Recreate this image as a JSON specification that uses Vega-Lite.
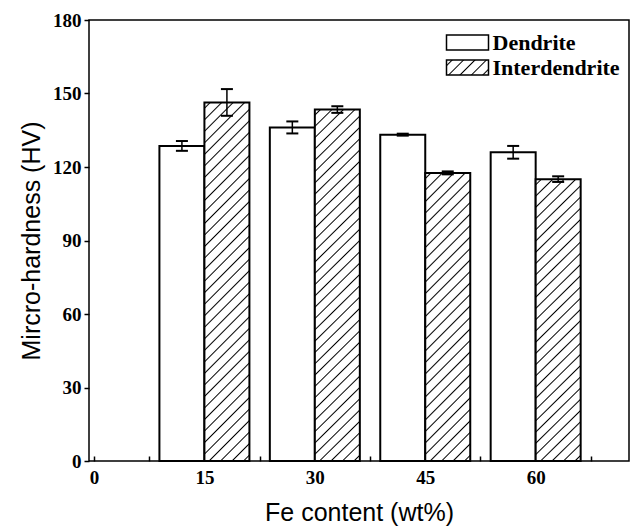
{
  "$schema": "https://vega.github.io/schema/vega-lite/v6.json",
  "width": 540,
  "height": 441,
  "autosize": "none",
  "padding": {"left": 89, "top": 20, "right": 6, "bottom": 67},
  "background": "white",
  "config": {
    "view": {"stroke": "black", "strokeWidth": 1.5},
    "axis": {"domain": false, "grid": false, "tickColor": "black", "tickWidth": 1.5, "labelColor": "black", "titleColor": "black", "labelFont": "Liberation Serif", "labelFontWeight": "bold", "labelFontSize": 19, "titleFont": "Liberation Sans", "titleFontWeight": "normal", "titleFontSize": 25}
  },
  "params": [
    {"name": "hatchL", "value": {"gradient": "linear", "x1": 0, "y1": 0, "x2": 1.2035, "y2": 0.4297, "stops": [
      {"offset": 0.075, "color": "#fff"}, {"offset": 0.1, "color": "#000"}, {"offset": 0.125, "color": "#fff"},
      {"offset": 0.275, "color": "#fff"}, {"offset": 0.3, "color": "#000"}, {"offset": 0.325, "color": "#fff"},
      {"offset": 0.475, "color": "#fff"}, {"offset": 0.5, "color": "#000"}, {"offset": 0.525, "color": "#fff"},
      {"offset": 0.675, "color": "#fff"}, {"offset": 0.7, "color": "#000"}, {"offset": 0.725, "color": "#fff"},
      {"offset": 0.875, "color": "#fff"}, {"offset": 0.9, "color": "#000"}, {"offset": 0.925, "color": "#fff"}
    ]}}
  ],
  "data": {"values": [
    {"fe": 15, "type": "Dendrite", "hv": 128.6, "lo": 126.6, "hi": 130.6},
    {"fe": 15, "type": "Interdendrite", "hv": 146.3, "lo": 140.9, "hi": 151.8},
    {"fe": 30, "type": "Dendrite", "hv": 136.1, "lo": 133.7, "hi": 138.6},
    {"fe": 30, "type": "Interdendrite", "hv": 143.5, "lo": 142.1, "hi": 144.8},
    {"fe": 45, "type": "Dendrite", "hv": 133.2, "lo": 132.8, "hi": 133.6},
    {"fe": 45, "type": "Interdendrite", "hv": 117.6, "lo": 117.0, "hi": 118.2},
    {"fe": 60, "type": "Dendrite", "hv": 126.0, "lo": 123.4, "hi": 128.6},
    {"fe": 60, "type": "Interdendrite", "hv": 115.0, "lo": 113.9, "hi": 116.2}
  ]},
  "encoding": {
    "x": {"field": "fe", "type": "quantitative", "scale": {"domain": [0, 72], "nice": false},
      "axis": {"title": "Fe content (wt%)", "values": [0, 7.5, 15, 22.5, 30, 37.5, 45, 52.5, 60, 67.5], "labelExpr": "datum.value % 15 === 0 ? datum.label : ''", "tickSize": -5, "labelPadding": 12, "titlePadding": 13}}
  },
  "layer": [
    {
      "transform": [{"filter": "datum.type === 'Dendrite'"}],
      "mark": {"type": "bar", "orient": "vertical", "width": 45, "xOffset": -22.5, "fill": "white", "stroke": "black", "strokeWidth": 2},
      "encoding": {
        "y": {"field": "hv", "type": "quantitative", "stack": null, "scale": {"domain": [0, 180], "nice": false},
          "axis": {"title": "Mircro-hardness (HV)", "values": [0, 15, 30, 45, 60, 75, 90, 105, 120, 135, 150, 165, 180], "labelExpr": "datum.value % 30 === 0 ? datum.label : ''", "tickSize": 5, "labelPadding": 3, "titlePadding": 8}}
      }
    },
    {
      "transform": [{"filter": "false"}],
      "mark": {"type": "bar", "orient": "vertical", "stroke": "black", "strokeWidth": 1.5, "opacity": 1},
      "encoding": {
        "y": {"field": "hv", "type": "quantitative", "stack": null, "axis": {"title": "Mircro-hardness (HV)"}},
        "fill": {"field": "type", "type": "nominal",
          "scale": {"domain": ["Dendrite", "Interdendrite"], "range": [{"expr": "'white'"}, {"expr": "hatchL"}]},
          "legend": {"title": null, "orient": "none", "legendX": 367.5, "legendY": 11.5, "symbolType": "M-2.8,-1H2.8V1H-2.8Z", "symbolSize": 225, "symbolStrokeColor": "black", "symbolStrokeWidth": 1.5, "symbolOpacity": 1, "labelFont": "Liberation Serif", "labelFontWeight": "bold", "labelFontSize": 22, "labelColor": "black", "rowPadding": 3, "labelOffset": 14}}
      }
    },
    {
      "transform": [{"filter": "datum.type === 'Interdendrite' && datum.fe <= 30"}],
      "mark": {"type": "bar", "orient": "vertical", "width": 45, "xOffset": 22.5, "stroke": "black", "strokeWidth": 2,
        "fill": {"gradient": "linear", "x1": 0, "y1": 0, "x2": 0.1396, "y2": 1.108, "stops": [
          {"offset": 0.0108, "color": "#fff"}, {"offset": 0.0143, "color": "#000"}, {"offset": 0.0178, "color": "#fff"},
          {"offset": 0.0394, "color": "#fff"}, {"offset": 0.0429, "color": "#000"}, {"offset": 0.0464, "color": "#fff"},
          {"offset": 0.0679, "color": "#fff"}, {"offset": 0.0714, "color": "#000"}, {"offset": 0.0749, "color": "#fff"},
          {"offset": 0.0965, "color": "#fff"}, {"offset": 0.1000, "color": "#000"}, {"offset": 0.1035, "color": "#fff"},
          {"offset": 0.1251, "color": "#fff"}, {"offset": 0.1286, "color": "#000"}, {"offset": 0.1321, "color": "#fff"},
          {"offset": 0.1536, "color": "#fff"}, {"offset": 0.1571, "color": "#000"}, {"offset": 0.1606, "color": "#fff"},
          {"offset": 0.1822, "color": "#fff"}, {"offset": 0.1857, "color": "#000"}, {"offset": 0.1892, "color": "#fff"},
          {"offset": 0.2108, "color": "#fff"}, {"offset": 0.2143, "color": "#000"}, {"offset": 0.2178, "color": "#fff"},
          {"offset": 0.2394, "color": "#fff"}, {"offset": 0.2429, "color": "#000"}, {"offset": 0.2464, "color": "#fff"},
          {"offset": 0.2679, "color": "#fff"}, {"offset": 0.2714, "color": "#000"}, {"offset": 0.2749, "color": "#fff"},
          {"offset": 0.2965, "color": "#fff"}, {"offset": 0.3000, "color": "#000"}, {"offset": 0.3035, "color": "#fff"},
          {"offset": 0.3251, "color": "#fff"}, {"offset": 0.3286, "color": "#000"}, {"offset": 0.3321, "color": "#fff"},
          {"offset": 0.3536, "color": "#fff"}, {"offset": 0.3571, "color": "#000"}, {"offset": 0.3606, "color": "#fff"},
          {"offset": 0.3822, "color": "#fff"}, {"offset": 0.3857, "color": "#000"}, {"offset": 0.3892, "color": "#fff"},
          {"offset": 0.4108, "color": "#fff"}, {"offset": 0.4143, "color": "#000"}, {"offset": 0.4178, "color": "#fff"},
          {"offset": 0.4394, "color": "#fff"}, {"offset": 0.4429, "color": "#000"}, {"offset": 0.4464, "color": "#fff"},
          {"offset": 0.4679, "color": "#fff"}, {"offset": 0.4714, "color": "#000"}, {"offset": 0.4749, "color": "#fff"},
          {"offset": 0.4965, "color": "#fff"}, {"offset": 0.5000, "color": "#000"}, {"offset": 0.5035, "color": "#fff"},
          {"offset": 0.5251, "color": "#fff"}, {"offset": 0.5286, "color": "#000"}, {"offset": 0.5321, "color": "#fff"},
          {"offset": 0.5536, "color": "#fff"}, {"offset": 0.5571, "color": "#000"}, {"offset": 0.5606, "color": "#fff"},
          {"offset": 0.5822, "color": "#fff"}, {"offset": 0.5857, "color": "#000"}, {"offset": 0.5892, "color": "#fff"},
          {"offset": 0.6108, "color": "#fff"}, {"offset": 0.6143, "color": "#000"}, {"offset": 0.6178, "color": "#fff"},
          {"offset": 0.6394, "color": "#fff"}, {"offset": 0.6429, "color": "#000"}, {"offset": 0.6464, "color": "#fff"},
          {"offset": 0.6679, "color": "#fff"}, {"offset": 0.6714, "color": "#000"}, {"offset": 0.6749, "color": "#fff"},
          {"offset": 0.6965, "color": "#fff"}, {"offset": 0.7000, "color": "#000"}, {"offset": 0.7035, "color": "#fff"},
          {"offset": 0.7251, "color": "#fff"}, {"offset": 0.7286, "color": "#000"}, {"offset": 0.7321, "color": "#fff"},
          {"offset": 0.7536, "color": "#fff"}, {"offset": 0.7571, "color": "#000"}, {"offset": 0.7606, "color": "#fff"},
          {"offset": 0.7822, "color": "#fff"}, {"offset": 0.7857, "color": "#000"}, {"offset": 0.7892, "color": "#fff"},
          {"offset": 0.8108, "color": "#fff"}, {"offset": 0.8143, "color": "#000"}, {"offset": 0.8178, "color": "#fff"},
          {"offset": 0.8394, "color": "#fff"}, {"offset": 0.8429, "color": "#000"}, {"offset": 0.8464, "color": "#fff"},
          {"offset": 0.8679, "color": "#fff"}, {"offset": 0.8714, "color": "#000"}, {"offset": 0.8749, "color": "#fff"},
          {"offset": 0.8965, "color": "#fff"}, {"offset": 0.9000, "color": "#000"}, {"offset": 0.9035, "color": "#fff"},
          {"offset": 0.9251, "color": "#fff"}, {"offset": 0.9286, "color": "#000"}, {"offset": 0.9321, "color": "#fff"},
          {"offset": 0.9536, "color": "#fff"}, {"offset": 0.9571, "color": "#000"}, {"offset": 0.9606, "color": "#fff"},
          {"offset": 0.9822, "color": "#fff"}, {"offset": 0.9857, "color": "#000"}, {"offset": 0.9892, "color": "#fff"}
        ]}},
      "encoding": {
        "y": {"field": "hv", "type": "quantitative", "stack": null, "axis": {"title": "Mircro-hardness (HV)"}}
      }
    },
    {
      "transform": [{"filter": "datum.type === 'Interdendrite' && datum.fe > 30"}],
      "mark": {"type": "bar", "orient": "vertical", "width": 45, "xOffset": 22.5, "stroke": "black", "strokeWidth": 2,
        "fill": {"gradient": "linear", "x1": 0, "y1": 0, "x2": 0.1771, "y2": 1.129, "stops": [
          {"offset": 0.0129, "color": "#fff"}, {"offset": 0.0172, "color": "#000"}, {"offset": 0.0215, "color": "#fff"},
          {"offset": 0.0474, "color": "#fff"}, {"offset": 0.0517, "color": "#000"}, {"offset": 0.0560, "color": "#fff"},
          {"offset": 0.0819, "color": "#fff"}, {"offset": 0.0862, "color": "#000"}, {"offset": 0.0905, "color": "#fff"},
          {"offset": 0.1164, "color": "#fff"}, {"offset": 0.1207, "color": "#000"}, {"offset": 0.1250, "color": "#fff"},
          {"offset": 0.1509, "color": "#fff"}, {"offset": 0.1552, "color": "#000"}, {"offset": 0.1595, "color": "#fff"},
          {"offset": 0.1854, "color": "#fff"}, {"offset": 0.1897, "color": "#000"}, {"offset": 0.1940, "color": "#fff"},
          {"offset": 0.2198, "color": "#fff"}, {"offset": 0.2241, "color": "#000"}, {"offset": 0.2284, "color": "#fff"},
          {"offset": 0.2543, "color": "#fff"}, {"offset": 0.2586, "color": "#000"}, {"offset": 0.2629, "color": "#fff"},
          {"offset": 0.2888, "color": "#fff"}, {"offset": 0.2931, "color": "#000"}, {"offset": 0.2974, "color": "#fff"},
          {"offset": 0.3233, "color": "#fff"}, {"offset": 0.3276, "color": "#000"}, {"offset": 0.3319, "color": "#fff"},
          {"offset": 0.3578, "color": "#fff"}, {"offset": 0.3621, "color": "#000"}, {"offset": 0.3664, "color": "#fff"},
          {"offset": 0.3923, "color": "#fff"}, {"offset": 0.3966, "color": "#000"}, {"offset": 0.4009, "color": "#fff"},
          {"offset": 0.4267, "color": "#fff"}, {"offset": 0.4310, "color": "#000"}, {"offset": 0.4353, "color": "#fff"},
          {"offset": 0.4612, "color": "#fff"}, {"offset": 0.4655, "color": "#000"}, {"offset": 0.4698, "color": "#fff"},
          {"offset": 0.4957, "color": "#fff"}, {"offset": 0.5000, "color": "#000"}, {"offset": 0.5043, "color": "#fff"},
          {"offset": 0.5302, "color": "#fff"}, {"offset": 0.5345, "color": "#000"}, {"offset": 0.5388, "color": "#fff"},
          {"offset": 0.5647, "color": "#fff"}, {"offset": 0.5690, "color": "#000"}, {"offset": 0.5733, "color": "#fff"},
          {"offset": 0.5991, "color": "#fff"}, {"offset": 0.6034, "color": "#000"}, {"offset": 0.6077, "color": "#fff"},
          {"offset": 0.6336, "color": "#fff"}, {"offset": 0.6379, "color": "#000"}, {"offset": 0.6422, "color": "#fff"},
          {"offset": 0.6681, "color": "#fff"}, {"offset": 0.6724, "color": "#000"}, {"offset": 0.6767, "color": "#fff"},
          {"offset": 0.7026, "color": "#fff"}, {"offset": 0.7069, "color": "#000"}, {"offset": 0.7112, "color": "#fff"},
          {"offset": 0.7371, "color": "#fff"}, {"offset": 0.7414, "color": "#000"}, {"offset": 0.7457, "color": "#fff"},
          {"offset": 0.7716, "color": "#fff"}, {"offset": 0.7759, "color": "#000"}, {"offset": 0.7802, "color": "#fff"},
          {"offset": 0.8060, "color": "#fff"}, {"offset": 0.8103, "color": "#000"}, {"offset": 0.8146, "color": "#fff"},
          {"offset": 0.8405, "color": "#fff"}, {"offset": 0.8448, "color": "#000"}, {"offset": 0.8491, "color": "#fff"},
          {"offset": 0.8750, "color": "#fff"}, {"offset": 0.8793, "color": "#000"}, {"offset": 0.8836, "color": "#fff"},
          {"offset": 0.9095, "color": "#fff"}, {"offset": 0.9138, "color": "#000"}, {"offset": 0.9181, "color": "#fff"},
          {"offset": 0.9440, "color": "#fff"}, {"offset": 0.9483, "color": "#000"}, {"offset": 0.9526, "color": "#fff"},
          {"offset": 0.9785, "color": "#fff"}, {"offset": 0.9828, "color": "#000"}, {"offset": 0.9871, "color": "#fff"}
        ]}},
      "encoding": {
        "y": {"field": "hv", "type": "quantitative", "stack": null, "axis": {"title": "Mircro-hardness (HV)"}}
      }
    },
    {
      "transform": [{"filter": "datum.type === 'Dendrite'"}],
      "mark": {"type": "rule", "xOffset": -22.5, "color": "black", "strokeWidth": 1.5},
      "encoding": {"y": {"field": "lo", "type": "quantitative", "axis": {"title": "Mircro-hardness (HV)"}}, "y2": {"field": "hi"}}
    },
    {
      "transform": [{"filter": "datum.type === 'Interdendrite'"}],
      "mark": {"type": "rule", "xOffset": 22.5, "color": "black", "strokeWidth": 1.5},
      "encoding": {"y": {"field": "lo", "type": "quantitative", "axis": {"title": "Mircro-hardness (HV)"}}, "y2": {"field": "hi"}}
    },
    {
      "transform": [{"filter": "datum.type === 'Dendrite'"}],
      "mark": {"type": "tick", "orient": "horizontal", "xOffset": -22.5, "color": "black", "size": 12, "thickness": 2, "opacity": 1},
      "encoding": {"y": {"field": "lo", "type": "quantitative", "axis": {"title": "Mircro-hardness (HV)"}}}
    },
    {
      "transform": [{"filter": "datum.type === 'Dendrite'"}],
      "mark": {"type": "tick", "orient": "horizontal", "xOffset": -22.5, "color": "black", "size": 12, "thickness": 2, "opacity": 1},
      "encoding": {"y": {"field": "hi", "type": "quantitative", "axis": {"title": "Mircro-hardness (HV)"}}}
    },
    {
      "transform": [{"filter": "datum.type === 'Interdendrite'"}],
      "mark": {"type": "tick", "orient": "horizontal", "xOffset": 22.5, "color": "black", "size": 12, "thickness": 2, "opacity": 1},
      "encoding": {"y": {"field": "lo", "type": "quantitative", "axis": {"title": "Mircro-hardness (HV)"}}}
    },
    {
      "transform": [{"filter": "datum.type === 'Interdendrite'"}],
      "mark": {"type": "tick", "orient": "horizontal", "xOffset": 22.5, "color": "black", "size": 12, "thickness": 2, "opacity": 1},
      "encoding": {"y": {"field": "hi", "type": "quantitative", "axis": {"title": "Mircro-hardness (HV)"}}}
    }
  ]
}
